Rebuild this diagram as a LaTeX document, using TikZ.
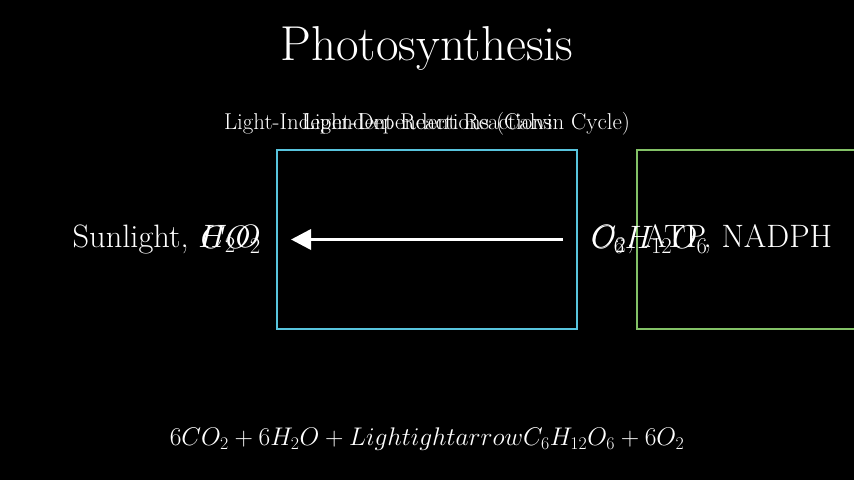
\documentclass[tikz,border=0pt]{standalone}
\usepackage{fix-cm}
\usepackage{tikz}
\usetikzlibrary{arrows.meta,positioning}
\definecolor{calvinblue}{HTML}{58C4DD}
\definecolor{calvingreen}{HTML}{83C167}

\begin{document}
\begin{tikzpicture}[x=1pt, y=-1pt, every node/.style={text=white, inner sep=0pt},
      stage/.style={draw, line width=2pt, minimum width=300pt, minimum height=179pt},
      lbl/.style={font=\fontsize{32.4}{38}\selectfont},
      head/.style={font=\fontsize{22.9}{27}\selectfont},
      >={Triangle[length=20pt, width=20pt]}]
    \fill[black] (0,0) rectangle (854,480);
    \useasboundingbox (0,0) rectangle (854,480);
    \node[font=\fontsize{49}{56}\selectfont] (title) at (427,48) {Photosynthesis};
    \node[stage, draw=calvinblue] (ld) at (427,239.5) {};
    \node[stage, draw=calvingreen] (li) at (787,239.5) {};
    \node[head] (ldh) at (427,124) {Light-Dependent Reactions};
    \node[head] (lih) at (427,124) {Light-Independent Reactions (Calvin Cycle)};
    \node[lbl, left=15pt of ld] (in1) {Sunlight, $H_2O$};
    \node[lbl, left=15pt of ld] (in2) {$CO_2$};
    \node[lbl, right=13pt of ld] (out1) {$O_2$, ATP, NADPH};
    \node[lbl, right=13pt of ld] (out2) {$C_6H_{12}O_6$};
    \draw[->, white, line width=3.5pt] ([xshift=-15pt]ld.east) -- ([xshift=15pt]ld.west);
    \node[font=\fontsize{25.5}{30}\selectfont] (eq) at (427,439)
      {$6CO_2 + 6H_2O + Lightightarrow C_6H_{12}O_6 + 6O_2$};
  \end{tikzpicture}
\end{document}
